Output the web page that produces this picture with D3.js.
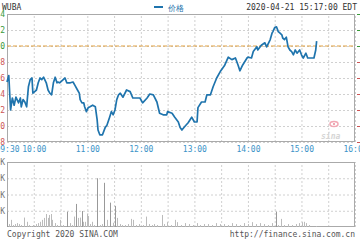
<!DOCTYPE html>
<html>
<head>
<meta charset="utf-8">
<script src="https://cdn.jsdelivr.net/npm/d3@7"></script>
<style>
    body { margin: 0; background: #fff; }
    svg { display: block; }
    text { font-family: "DejaVu Sans Mono", monospace; font-size: 8px; }
    .grid line { stroke: #d0d0d0; stroke-dasharray: 2, 2; }
    .grid path { display: none; }
</style>
</head>
<body>
<svg id="chart" width="360" height="240"></svg>
<script>
// minutes after 09:30 and last price
const minutes = [0, 2, 4, 6, 8, 10, 13, 15, 16, 18, 20, 22, 24, 26, 28, 29, 31, 33, 35, 37, 39, 41, 44, 46, 48, 50, 52, 54, 56, 57, 59, 63, 65, 67, 71, 74, 76, 79, 81, 82, 84, 86, 87, 89, 91, 93, 96, 99, 101, 102, 104, 107, 110, 112, 115, 117, 119, 121, 123, 125, 127, 130, 134, 138, 141, 145, 149, 152, 157, 160, 164, 168, 171, 175, 179, 180, 185, 188, 192, 194, 196, 199, 203, 207, 210, 213, 214, 218, 222, 224, 228, 231, 235, 239, 244, 248, 252, 256, 259, 261, 264, 269, 270, 274, 276, 280, 281, 285, 289, 291, 295, 297, 298, 300, 302, 304, 306, 308, 309, 311, 313, 315, 317, 319, 321, 323, 325, 328, 330, 332, 335, 337, 341, 344, 346, 347];
const prices = [49.55, 49.63, 49.20, 49.35, 49.26, 49.36, 49.29, 49.35, 49.24, 49.33, 49.30, 49.24, 49.49, 49.58, 49.60, 49.41, 49.43, 49.45, 49.54, 49.60, 49.58, 49.61, 49.54, 49.45, 49.41, 49.39, 49.54, 49.61, 49.54, 49.55, 49.54, 49.58, 49.60, 49.54, 49.54, 49.55, 49.51, 49.45, 49.41, 49.33, 49.29, 49.29, 49.24, 49.18, 49.23, 49.24, 49.26, 49.24, 49.08, 48.95, 48.89, 48.89, 48.98, 49.01, 49.11, 49.18, 49.14, 49.20, 49.33, 49.39, 49.41, 49.36, 49.45, 49.43, 49.35, 49.35, 49.35, 49.29, 49.35, 49.40, 49.39, 49.30, 49.16, 49.14, 49.14, 49.18, 49.16, 49.11, 49.05, 48.98, 48.95, 48.99, 49.04, 49.11, 49.05, 49.05, 49.23, 49.30, 49.30, 49.39, 49.39, 49.49, 49.60, 49.68, 49.76, 49.86, 49.83, 49.85, 49.76, 49.69, 49.76, 49.85, 49.86, 49.85, 49.93, 49.99, 49.95, 50.01, 50.04, 49.99, 50.08, 50.16, 50.18, 50.23, 50.24, 50.18, 50.16, 50.14, 50.10, 50.08, 50.11, 49.99, 49.95, 49.93, 49.89, 49.95, 49.91, 49.95, 49.89, 49.85, 49.91, 49.85, 49.85, 49.85, 49.95, 50.06];

// volume in thousands
const volMinutes = [0, 2, 5, 7, 9, 11, 13, 16, 19, 22, 25, 27, 29, 32, 35, 37, 39, 41, 44, 46, 47, 49, 50, 54, 56, 59, 63, 67, 71, 73, 75, 77, 80, 82, 84, 85, 87, 90, 91, 93, 95, 98, 101, 104, 106, 109, 112, 115, 119, 121, 123, 127, 129, 132, 136, 139, 141, 145, 148, 152, 156, 159, 162, 165, 168, 174, 176, 179, 184, 188, 191, 195, 199, 204, 208, 213, 216, 221, 225, 230, 234, 239, 243, 248, 252, 257, 261, 266, 270, 275, 279, 284, 288, 292, 297, 301, 304, 307, 310, 315, 319, 324, 327, 331, 333, 335, 338, 346];
const volumes = [47, 9, 22, 6, 9, 12, 9, 6, 29, 16, 6, 3, 6, 9, 12, 16, 22, 28, 40, 28, 37, 40, 22, 12, 6, 22, 6, 47, 12, 6, 32, 71, 28, 29, 49, 16, 16, 40, 34, 9, 16, 6, 150, 6, 9, 136, 22, 75, 13, 65, 28, 9, 6, 6, 9, 25, 22, 6, 9, 6, 32, 9, 6, 9, 6, 37, 9, 15, 6, 22, 15, 6, 12, 9, 6, 12, 6, 9, 9, 6, 12, 9, 9, 6, 12, 9, 6, 12, 9, 15, 9, 12, 9, 6, 12, 47, 6, 25, 6, 9, 6, 9, 12, 15, 16, 12, 6, 3];

const priceTicks = [48.8, 49.0, 49.2, 49.4, 49.6, 49.8, 50.0, 50.2, 50.4];
const prevClose = 50.0;
const volTicks = [50, 100, 150, 200];
const timeTicks = [0, 30, 90, 150, 210, 270, 330, 390];
const timeLabels = ["09:30", "10:00", "11:00", "12:00", "13:00", "14:00", "15:00", "16:00"];
const gridMinutes = d3.range(0, 391, 30);

const left = 7, right = 355;
const pTop = 14, pBottom = 142;
const vTop = 162, vBottom = 227;

const svg = d3.select("#chart");

const x = d3.scaleLinear().domain([0, 390]).range([left, right]);
const y = d3.scaleLinear().domain([48.8, 50.4]).range([pBottom, pTop]);
const yv = d3.scaleLinear().domain([0, 200]).range([vBottom, vTop]);

const up = "#3a9a3a", down = "#cc5555";

// price panel grid
svg.append("g")
    .attr("class", "grid")
    .attr("transform", `translate(${left}, 0)`)
    .call(d3.axisLeft(y).tickValues(priceTicks).tickSize(-(right - left)).tickFormat(""));

svg.append("g")
    .attr("class", "grid")
    .attr("transform", `translate(0, ${pBottom})`)
    .call(d3.axisBottom(x).tickValues(gridMinutes).tickSize(-(pBottom - pTop)).tickFormat(""));

// volume panel grid
svg.append("g")
    .attr("class", "grid")
    .attr("transform", `translate(${left}, 0)`)
    .call(d3.axisLeft(yv).tickValues(volTicks).tickSize(-(right - left)).tickFormat(""));

svg.append("g")
    .attr("class", "grid")
    .attr("transform", `translate(0, ${vBottom})`)
    .call(d3.axisBottom(x).tickValues(gridMinutes).tickSize(-(vBottom - vTop)).tickFormat(""));

// frames
[[pTop, pBottom], [vTop, vBottom]].forEach(([t, b]) => {
    svg.append("rect")
        .attr("x", left + 0.5)
        .attr("y", t + 0.5)
        .attr("width", right - left - 1)
        .attr("height", b - t - 1)
        .attr("fill", "none")
        .attr("stroke", "#aaa");
});

// previous close
svg.append("line")
    .attr("x1", left)
    .attr("x2", right)
    .attr("y1", y(prevClose))
    .attr("y2", y(prevClose))
    .attr("stroke", "#e0a040")
    .attr("stroke-dasharray", "4,2");

// left price labels (clipped by the window edge)
const leftAxis = svg.append("g")
    .attr("transform", `translate(5, 0)`)
    .call(d3.axisLeft(y).tickValues(priceTicks).tickSize(0).tickPadding(0).tickFormat(d3.format(".1f")));
leftAxis.select(".domain").remove();
leftAxis.selectAll("text")
    .attr("font-family", "DejaVu Sans Mono")
    .attr("font-size", 8)
    .attr("fill", d => d >= prevClose - 1e-9 ? up : down);

// right percent labels
const pct = d => (d - prevClose) / prevClose * 100;
const rightAxis = svg.append("g")
    .attr("transform", `translate(${right + 2}, 0)`)
    .call(d3.axisRight(y).tickValues(priceTicks).tickSize(3).tickPadding(1)
        .tickFormat(d => (pct(d) > 0 ? "+" : "") + pct(d).toFixed(2) + "%"));
rightAxis.select(".domain").remove();
rightAxis.selectAll("line").attr("stroke", d => d >= prevClose - 1e-9 ? up : down);
rightAxis.selectAll("text")
    .attr("font-family", "DejaVu Sans Mono")
    .attr("font-size", 8)
    .attr("fill", d => d >= prevClose - 1e-9 ? up : down);

// time labels
const timeAxis = svg.append("g")
    .attr("transform", `translate(0, ${pBottom + 4})`)
    .call(d3.axisBottom(x).tickValues(timeTicks).tickSize(0).tickPadding(0)
        .tickFormat((d, i) => timeLabels[i]));
timeAxis.select(".domain").remove();
timeAxis.selectAll("text")
    .attr("font-family", "DejaVu Sans Mono")
    .attr("font-size", 8)
    .attr("fill", "#3b93c8");

// volume labels
const volAxis = svg.append("g")
    .attr("transform", `translate(5, 0)`)
    .call(d3.axisLeft(yv).tickValues(volTicks).tickSize(0).tickPadding(0).tickFormat(d => d + "K"));
volAxis.select(".domain").remove();
volAxis.selectAll("text")
    .attr("font-family", "DejaVu Sans Mono")
    .attr("font-size", 8)
    .attr("fill", "#777");

// volume bars
svg.append("g")
    .selectAll("line")
    .data(volumes)
    .enter()
    .append("line")
    .attr("x1", (d, i) => Math.round(x(volMinutes[i])) + 0.5)
    .attr("x2", (d, i) => Math.round(x(volMinutes[i])) + 0.5)
    .attr("y1", vBottom)
    .attr("y2", d => yv(d))
    .attr("stroke", (d, i) => d > 40 ? "#999" : "#bbb")
    .attr("stroke-width", 1);

// sina watermark
svg.append("ellipse")
    .attr("cx", 334)
    .attr("cy", 124)
    .attr("rx", 4)
    .attr("ry", 2.5)
    .attr("fill", "none")
    .attr("stroke", "#f2a8b4")
    .attr("stroke-width", 1.5);
svg.append("circle")
    .attr("cx", 334)
    .attr("cy", 124)
    .attr("r", 1)
    .attr("fill", "#e88a98");
svg.append("text")
    .attr("x", 321)
    .attr("y", 139)
    .attr("font-family", "DejaVu Sans")
    .attr("font-style", "italic")
    .attr("font-weight", "bold")
    .attr("font-size", 13)
    .attr("fill", "#d6d6d6")
    .text("sina");

// price line
const line = d3.line()
    .x((d, i) => x(minutes[i]))
    .y(d => y(d));

svg.append("path")
    .datum(prices)
    .attr("fill", "none")
    .attr("stroke", "#1f74ad")
    .attr("stroke-width", 1.7)
    .attr("stroke-linejoin", "round")
    .attr("d", line);

// header
svg.append("text")
    .attr("x", 2)
    .attr("y", 10)
    .attr("fill", "#333")
    .text("WUBA");

svg.append("rect")
    .attr("x", 154)
    .attr("y", 6)
    .attr("width", 9)
    .attr("height", 2)
    .attr("fill", "#1f74ad");

svg.append("text")
    .attr("x", 168)
    .attr("y", 11)
    .attr("font-family", "Noto Sans CJK SC")
    .attr("font-size", 9)
    .attr("fill", "#1f74ad")
    .text("价格");

svg.append("text")
    .attr("x", 357)
    .attr("y", 10)
    .attr("text-anchor", "end")
    .attr("fill", "#333")
    .text("2020-04-21 15:17:00 EDT");

// footer
svg.append("text")
    .attr("x", 7)
    .attr("y", 237)
    .attr("fill", "#555")
    .text("Copyright 2020 SINA.COM");

svg.append("text")
    .attr("x", 355)
    .attr("y", 237)
    .attr("text-anchor", "end")
    .attr("fill", "#555")
    .text("http://finance.sina.com.cn");
</script>
</body>
</html>
